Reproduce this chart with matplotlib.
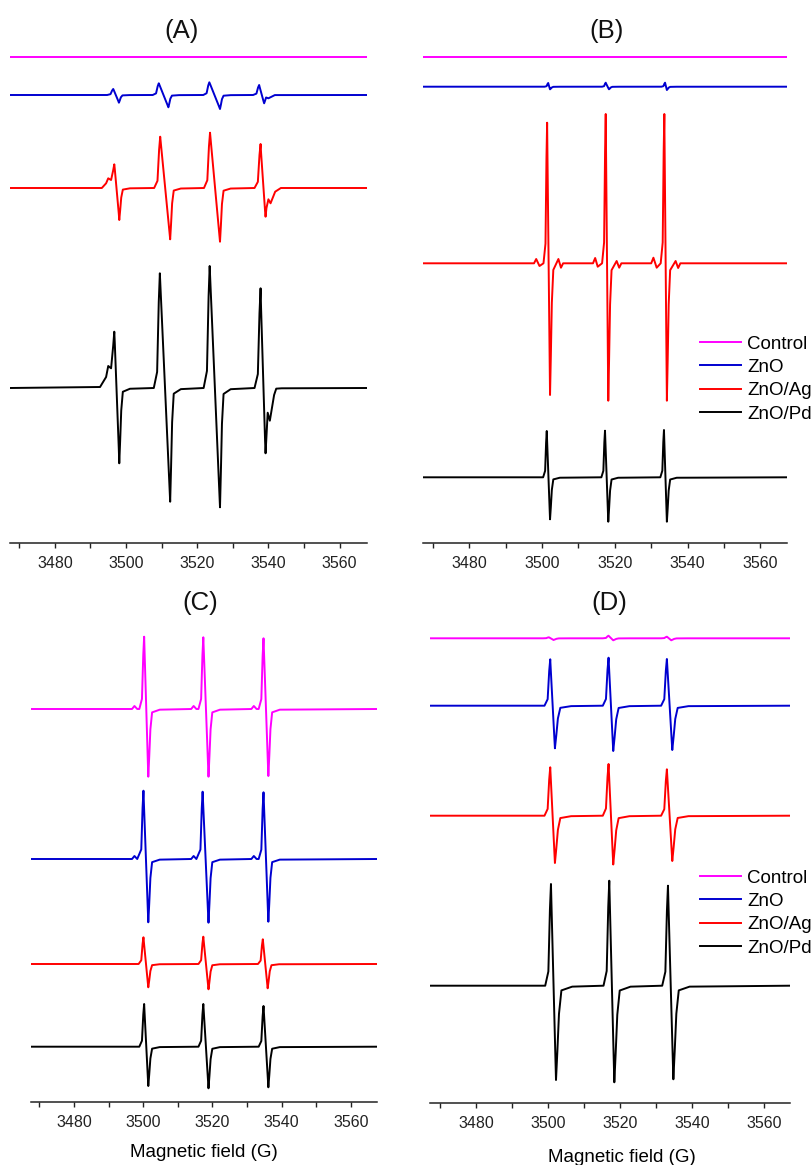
import matplotlib.pyplot as plt

plt.rcParams['font.family'] = ['Liberation Sans', 'DejaVu Sans']

# series shared by the four panels
names = ['Control', 'ZnO', 'ZnO/Ag', 'ZnO/Pd']
colors = ['#ff00ff', '#0000d0', '#ff0000', '#000000']
field_ticks = [3480, 3500, 3520, 3540, 3560]

# baseline of each trace, positive lobe (top) and negative lobe (low) of each line (field in G)
# (A)
A_base = [486, 448, 355, 155]
A_top_x = [[], [3496.4, 3509.2, 3523.4, 3537.4], [3496.7, 3509.6, 3523.6, 3537.8], [3496.7, 3509.5, 3523.5, 3537.8]]
A_top_y = [[], [454, 459.7, 460.7, 458], [378.7, 406.3, 410.3, 399], [211.3, 269.7, 277, 254.7]]
A_low_x = [[], [3498.0, 3511.9, 3526.4, 3538.8], [3498.1, 3512.4, 3526.4, 3539.2], [3498.1, 3512.4, 3526.4, 3539.2]]
A_low_y = [[], [440.3, 435.7, 434, 439.7], [323, 303.7, 301.3, 326.3], [79.7, 41.3, 35.7, 89.7]]
A_extra_x = [[], [3540.0], [3493.2, 3494.4, 3495.0, 3495.8, 3540.0, 3540.6, 3541.9, 3543.5],
             [3492.7, 3494.4, 3495.0, 3495.8, 3539.8, 3540.4, 3541.6, 3543.7]]
A_extra_y = [[], [444.7], [355, 359.7, 364.7, 363, 343.7, 339.7, 351.3, 355],
             [156, 166, 177, 174.7, 130.3, 122.3, 148, 154.7]]

# (B)
B_base = [485.7, 456.3, 279.7, 65.7]
B_top_x = [[], [3501.7, 3517.5, 3533.8], [3501.4, 3517.5, 3533.6], [3501.3, 3517.3, 3533.5]]
B_top_y = [[], [460, 460.3, 460.3], [420.3, 429, 429], [112, 112.3, 113]]
B_low_x = [[], [3502.2, 3518.4, 3534.3], [3502.2, 3518.2, 3534.3], [3502.2, 3518.2, 3534.3]]
B_low_y = [[], [453.7, 453.7, 453], [148, 142.3, 142.3], [23.7, 21.3, 21.3]]
B_extra_x = [[], [],
             [3497.8, 3498.4, 3499.3, 3504.5, 3505.2, 3505.8,
              3514.0, 3514.6, 3515.3, 3520.5, 3521.2, 3521.8,
              3530.0, 3530.6, 3531.5, 3536.7, 3537.4, 3538.0], []]
B_extra_y = [[], [],
             [279.7, 284, 277, 284, 275.3, 279.7,
              279.7, 285, 276.3, 282, 275.3, 279.7,
              279.7, 285.3, 275.3, 282, 275, 279.7], []]

# (C)
C_base = [393, 243, 138, 55.3]
C_top_x = [[3500.3, 3517.4, 3534.8], [3500.1, 3517.2, 3534.8], [3500.1, 3517.4, 3534.6], [3500.3, 3517.4, 3534.8]]
C_top_y = [[465.3, 464.7, 463.7], [311.3, 310.3, 309.7], [164.7, 165.3, 162.7], [98, 98, 96]]
C_low_x = [[3501.5, 3518.9, 3536.2], [3501.5, 3518.9, 3536.2], [3501.5, 3518.9, 3536.0], [3501.5, 3518.9, 3536.2]]
C_low_y = [[325.3, 325.3, 326], [179.7, 179.3, 180.3], [114.7, 112.7, 113.7], [16, 13.7, 14.7]]
C_extra_x = [[3496.8, 3497.5, 3498.3, 3513.9, 3514.6, 3515.4, 3531.3, 3532.0, 3532.8],
             [3496.8, 3497.5, 3498.3, 3513.9, 3514.6, 3515.4, 3531.3, 3532.0, 3532.8], [], []]
C_extra_y = [[393, 396, 393, 393, 396, 393, 393, 396, 393],
             [243, 246, 243, 243, 246, 243, 243, 246, 243], [], []]

# (D)
D_base = [464.7, 397.3, 287.3, 117.3]
D_top_x = [[3500.2, 3516.8, 3533.0], [3500.6, 3516.8, 3533.0], [3500.6, 3516.8, 3533.0], [3500.8, 3517.0, 3533.3]]
D_top_y = [[465.7, 467.3, 466.3], [443.7, 445.3, 444], [335.7, 339, 333.7], [219, 222.3, 217.3]]
D_low_x = [[3501.5, 3518.1, 3534.2], [3501.9, 3518.1, 3534.5], [3501.9, 3518.1, 3534.5], [3502.2, 3518.4, 3534.8]]
D_low_y = [[463, 462.7, 462.7], [354.7, 352, 353], [240, 238.5, 242], [23, 20.7, 23.7]]
D_extra_x = [[], [], [], []]
D_extra_y = [[], [], [], []]

# panel boxes in pixels (left, right, top, bottom), field range, line rise/settle widths, title spot
panels = [
    ('(A)', (10, 367, 45, 543), (3467.4, 3567.7), (1.7, 1.0), (182, 31),
     A_base, A_top_x, A_top_y, A_low_x, A_low_y, A_extra_x, A_extra_y),
    ('(B)', (423, 787, 45, 543), (3467.3, 3567.3), (1.0, 0.9), (607, 31),
     B_base, B_top_x, B_top_y, B_low_x, B_low_y, B_extra_x, B_extra_y),
    ('(C)', (31, 377, 620, 1102), (3467.6, 3567.6), (1.4, 1.1), (200, 603),
     C_base, C_top_x, C_top_y, C_low_x, C_low_y, C_extra_x, C_extra_y),
    ('(D)', (430, 790, 620, 1103), (3467.2, 3567.2), (1.6, 1.5), (609, 603),
     D_base, D_top_x, D_top_y, D_low_x, D_low_y, D_extra_x, D_extra_y),
]

W, H = 811, 1165
fig = plt.figure(figsize=(W / 100, H / 100), dpi=100)


def spectrum(base, tx, ty, lx, ly, ex, ey, rise, settle, lo, hi):
    # polyline through the read lobes; extra read points take over near them
    gen = []
    for t, a, l, b in zip(tx, ty, lx, ly):
        up, dn, w = a - base, base - b, l - t
        gen += [(t - rise, base), (t - 0.45 * rise, base + 0.14 * up), (t - 0.18 * rise, base + 0.75 * up),
                (t + 0.1 * w, base + 0.8 * up), (l - 0.1 * w, base - 0.8 * dn)]
        gen += [(l + 0.25 * settle, base - 0.7 * dn), (l + 0.55 * settle, base - 0.3 * dn),
                (l + settle, base - 0.05 * dn), (l + 3 * settle, base - 0.01 * dn)]
    gen = [p for p in gen if all(abs(p[0] - x) > 0.5 for x in ex)]
    pts = gen + list(zip(tx, ty)) + list(zip(lx, ly)) + list(zip(ex, ey))
    pts += [(lo, base), (hi, base)]
    pts.sort()
    return [p[0] for p in pts], [p[1] for p in pts]


axes = []
for (title, box, xlim, (rise, settle), tpos, base, tx, ty, lx, ly, ex, ey) in panels:
    l, r, t, b = box
    ax = fig.add_axes([l / W, 1 - b / H, (r - l) / W, (b - t) / H])
    ax.patch.set_alpha(0)
    for i in range(4):
        xs, ys = spectrum(base[i], tx[i], ty[i], lx[i], ly[i], ex[i], ey[i], rise, settle, xlim[0], xlim[1])
        ax.plot(xs, ys, color=colors[i], lw=1.4, label=names[i], solid_joinstyle='round')
    ax.set_xlim(xlim)
    ax.set_ylim(0, b - t)
    for s in ['top', 'left', 'right']:
        ax.spines[s].set_visible(False)
    ax.spines['bottom'].set_linewidth(1.1)
    ax.spines['bottom'].set_color('#222222')
    ax.set_yticks([])
    ax.set_xticks(field_ticks)
    ax.set_xticks(range(3470, 3570, 10), minor=True)
    ax.tick_params(axis='x', which='both', direction='out', length=3.6, width=1.0,
                   color='#222222', labelsize=11.5, pad=6, labelcolor='#222222')
    fig.text(tpos[0] / W, 1 - tpos[1] / H, title, fontsize=18.5, ha='center', va='center', color='#111111')
    axes.append(ax)

for ax, ytop in [(axes[1], 335.5), (axes[3], 869.5)]:
    ax.legend(loc='upper left', bbox_to_anchor=(700 / W, 1 - ytop / H), bbox_transform=fig.transFigure,
              frameon=False, fontsize=13.5, handlelength=2.2, handletextpad=0.3,
              labelspacing=0.33, borderpad=0, borderaxespad=0)

axes[2].set_xlabel('Magnetic field (G)', fontsize=13.5, labelpad=10)
axes[3].set_xlabel('Magnetic field (G)', fontsize=13.5, labelpad=13)
axes[3].xaxis.label.set_x((621.7 - 430) / 360)

fig.savefig('out.png', dpi=100)
